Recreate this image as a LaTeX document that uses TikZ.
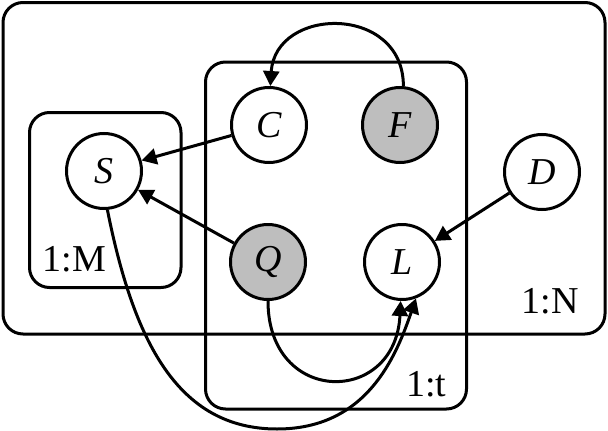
\documentclass[tikz,border=0pt]{standalone}
\usepackage{fontspec}
\setmainfont{Liberation Serif}
\usetikzlibrary{arrows.meta}
\definecolor{obsgray}{RGB}{190,190,190}
\begin{document}
\begin{tikzpicture}[x=1pt,y=-1pt,
  line width=3pt,
  plate/.style={draw, rounded corners=20pt},
  var/.style={circle, draw, fill=white, minimum size=75pt, inner sep=0pt, font=\fontsize{38}{40}\selectfont\itshape},
  obs/.style={var, fill=obsgray},
  lbl/.style={inner sep=0pt, font=\fontsize{38}{40}\selectfont},
  edge/.style={-{Triangle[length=15pt,width=16pt]}}
]
\useasboundingbox (0,0) rectangle (608,431);
% plates
\draw[plate] (3,2.5) rectangle (605,334);
\draw[plate] (205.5,62) rectangle (466.5,409);
\draw[plate] (29.5,112.5) rectangle (181,287.5);
% plate labels
\node[lbl, anchor=base west] (lm) at (41,271) {1:M};
\node[lbl, anchor=base east] (ln) at (580,313) {1:N};
\node[lbl, anchor=base east] (lt) at (448,396) {1:t};
% variables
\node[var] (S) at (104,171) {S};
\node[var] (C) at (269,125) {C};
\node[obs] (F) at (400,125) {F};
\node[obs] (Q) at (268,262) {Q};
\node[var] (L) at (402,262) {L};
\node[var] (D) at (542,172) {D};
\coordinate (sl) at (277,429);
% edges
\draw[edge] (C) -- (S);
\draw[edge] (Q) -- (S);
\draw[edge] (D) -- (L);
\draw[edge] (F.85) .. controls +(0,-82) and +(5,-80) .. (C.88);
\draw[edge] (Q.south) .. controls +(0,105) and +(-5,105) .. (L.-92);
\draw[edge] (S.-85) .. controls +(26,130) and +(-100,0) .. (sl) .. controls +(90,0) and +(-20,58) .. (L.-69);
\end{tikzpicture}
\end{document}
